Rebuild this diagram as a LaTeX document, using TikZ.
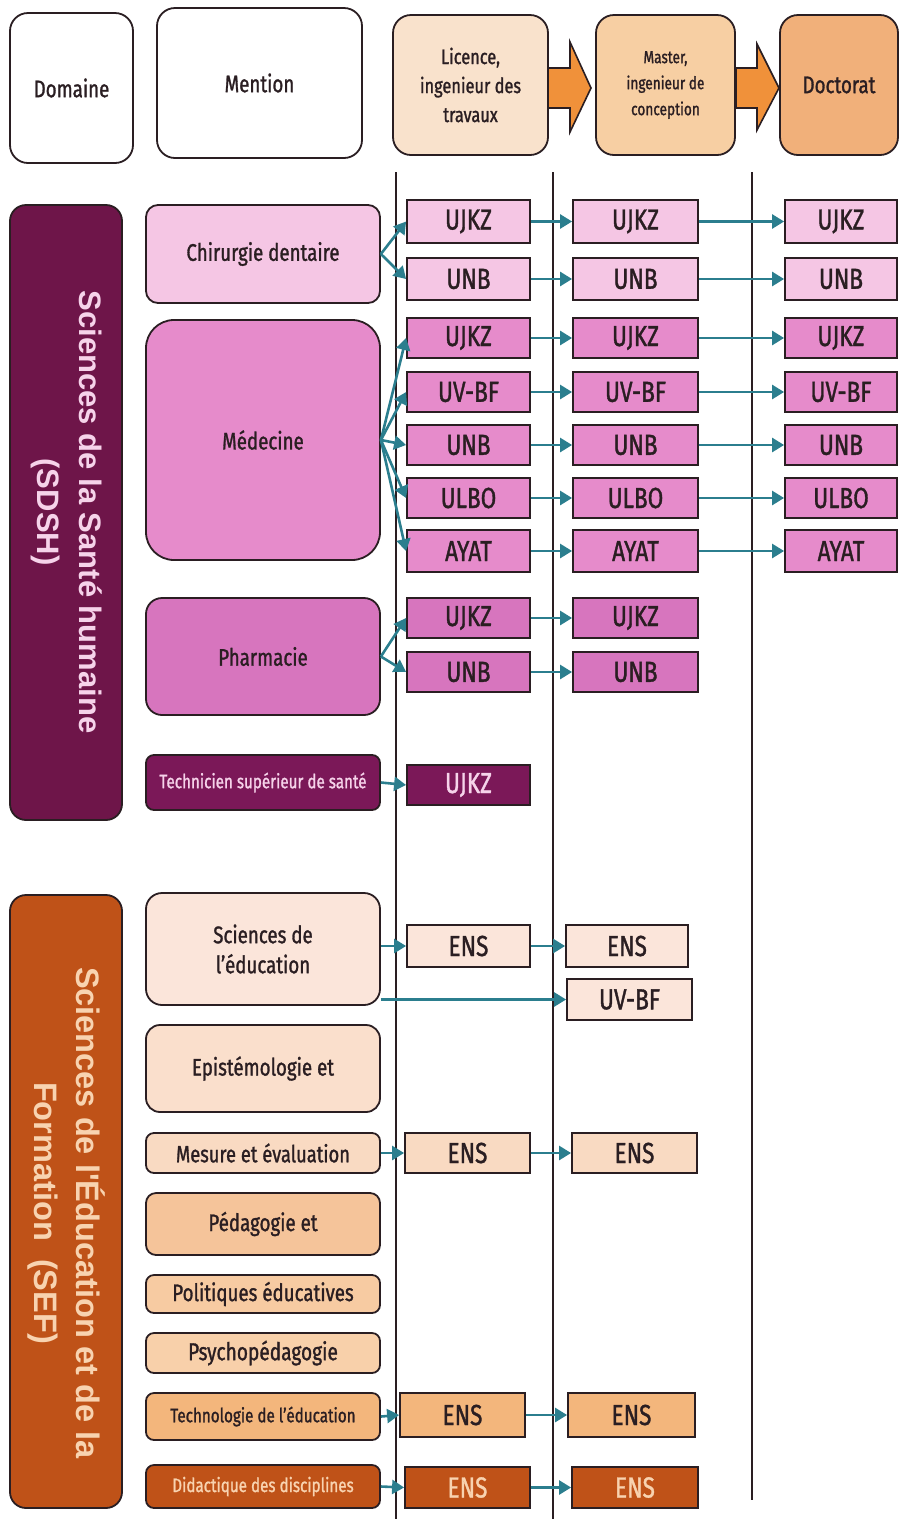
\documentclass[tikz,border=0pt]{standalone}
\usepackage{fontspec}
\setmainfont{Fira Sans}[FakeStretch=0.78,FakeBold=1.2]
\newfontfamily\domfont{Liberation Sans}
\usetikzlibrary{arrows.meta}
\definecolor{licfill}{HTML}{F9E2CC}
\definecolor{masfill}{HTML}{F7CFA3}
\definecolor{docfill}{HTML}{F1B07A}
\definecolor{harr}{HTML}{F0913A}
\definecolor{sdsh}{HTML}{6E1549}
\definecolor{pk1}{HTML}{F5C6E4}
\definecolor{pk2}{HTML}{E68BCB}
\definecolor{pk3}{HTML}{D775BE}
\definecolor{pk4}{HTML}{7B1858}
\definecolor{sef}{HTML}{BF5218}
\definecolor{pe1}{HTML}{FBE5DA}
\definecolor{pe2}{HTML}{FADFCC}
\definecolor{pe3}{HTML}{F9DAC2}
\definecolor{pe4}{HTML}{F5C49A}
\definecolor{pe5}{HTML}{F7CBA2}
\definecolor{pe6}{HTML}{F8D0AA}
\definecolor{pe7}{HTML}{F3B67C}
\definecolor{teal}{HTML}{2B7E8E}
\definecolor{ink}{HTML}{2A1E22}
\definecolor{lpink}{HTML}{F6D3EA}
\definecolor{lpeach}{HTML}{F8D3B0}
\newcommand\bx[7]{\node[#6, minimum width={(#4)-(#2)}, minimum height={(#5)-(#3)}] (#1) at ({((#2)+(#4))/2},{((#3)+(#5))/2}) {#7};}
\begin{document}
\begin{tikzpicture}[x=1pt,y=-1pt,
  base/.style={draw=ink, line width=1.8pt, inner sep=0pt, align=center, text=ink},
  hdr/.style={base, rounded corners=18pt, fill=white, font=\fontsize{24}{28}\selectfont},
  dombox/.style={base, rounded corners=16pt},
  menbox/.style={base, rounded corners=12pt, font=\fontsize{24}{30}\selectfont},
  inst/.style={base, rounded corners=0pt, font=\fontsize{29}{30}\selectfont},
  arr/.style={draw=teal, line width=2.6pt, -{Triangle[length=12pt,width=14pt]}},
  harrow/.style={draw=ink, line width=1.6pt, fill=harr, line join=miter},
  vline/.style={draw=ink, line width=1.2pt}]
\useasboundingbox (0,0) rectangle (908,1519);
% vertical lines
\draw[vline] (396,172) -- (396,1519);
\draw[vline] (553,172) -- (553,1519);
\draw[vline] (752,172) -- (752,1500);
% header arrows
\draw[harrow] (547,68) -- (570,68) -- (570,42) -- (591,88) -- (570,132) -- (570,108) -- (547,108) -- cycle;
\draw[harrow] (736,68) -- (757,68) -- (757,44) -- (779,88) -- (757,130) -- (757,108) -- (736,108) -- cycle;
% header
\bx{dom}{10}{13}{133}{163}{hdr}{Domaine}
\bx{men}{157}{8}{362}{158}{hdr}{Mention}
\bx{lic}{393}{15}{548}{155}{hdr,fill=licfill,font=\fontsize{21}{29}\selectfont}{Licence,\\ingenieur des\\travaux}
\bx{mas}{596}{15}{735}{155}{hdr,fill=masfill,font=\fontsize{17.5}{26}\selectfont}{Master,\\ingenieur de\\conception}
\bx{doc}{780}{15}{898}{155}{hdr,fill=docfill}{Doctorat}
% domains
\bx{sdsh}{10}{205}{122}{820}{dombox,fill=sdsh}{}
\node[rotate=-90, align=center, text=lpink, font=\domfont\bfseries\fontsize{31}{42}\selectfont] (sdshT) at (67,512) {Sciences de la Santé humaine\\(SDSH)};
\bx{sefd}{10}{895}{122}{1508}{dombox,fill=sef}{}
\node[rotate=-90, align=center, text=lpeach, font=\domfont\bfseries\fontsize{32.5}{42}\selectfont] (sefT) at (67,1213) {Sciences de l'Éducation et de la\\Formation\ \ (SEF)};
% mentions SDSH
\bx{chir}{146}{205}{380}{303}{menbox,fill=pk1}{Chirurgie dentaire}
\bx{med}{146}{320}{380}{560}{menbox,fill=pk2,rounded corners=28pt}{Médecine}
\bx{pha}{146}{598}{380}{715}{menbox,fill=pk3,rounded corners=16pt}{Pharmacie}
\bx{tec}{146}{755}{380}{810}{menbox,fill=pk4,text=lpink,font=\fontsize{19.5}{22}\selectfont,rounded corners=8pt}{Technicien supérieur de santé}
% mentions SEF
\bx{sce}{146}{893}{380}{1005}{menbox,fill=pe1,rounded corners=16pt}{Sciences de\\l'éducation}
\bx{epi}{146}{1025}{380}{1112}{menbox,fill=pe2,rounded corners=14pt}{Epistémologie et}
\bx{mes}{146}{1133}{380}{1173}{menbox,fill=pe3,rounded corners=8pt,font=\fontsize{23.5}{26}\selectfont}{Mesure et évaluation}
\bx{ped}{146}{1193}{380}{1255}{menbox,fill=pe4,rounded corners=10pt}{Pédagogie et}
\bx{pol}{146}{1275}{380}{1313}{menbox,fill=pe5,rounded corners=8pt,font=\fontsize{24}{26}\selectfont}{Politiques éducatives}
\bx{psy}{146}{1333}{380}{1373}{menbox,fill=pe6,rounded corners=8pt,font=\fontsize{24.5}{26}\selectfont}{Psychopédagogie}
\bx{tce}{146}{1393}{380}{1440}{menbox,fill=pe7,rounded corners=8pt,font=\fontsize{19.5}{22}\selectfont}{Technologie de l'éducation}
\bx{did}{146}{1465}{380}{1508}{menbox,fill=sef,text=lpeach,rounded corners=8pt,font=\fontsize{19.5}{22}\selectfont}{Didactique des disciplines}
% institutions: Chirurgie
\bx{l1}{407}{200}{530}{243}{inst,fill=pk1}{UJKZ}
\bx{m1}{573}{200}{698}{243}{inst,fill=pk1}{UJKZ}
\bx{d1}{785}{200}{897}{243}{inst,fill=pk1}{UJKZ}
\bx{l2}{407}{258}{530}{300}{inst,fill=pk1}{UNB}
\bx{m2}{573}{258}{698}{300}{inst,fill=pk1}{UNB}
\bx{d2}{785}{258}{897}{300}{inst,fill=pk1}{UNB}
% Medecine
\bx{l3}{407}{318}{530}{358}{inst,fill=pk2}{UJKZ}
\bx{m3}{573}{318}{698}{358}{inst,fill=pk2}{UJKZ}
\bx{d3}{785}{318}{897}{358}{inst,fill=pk2}{UJKZ}
\bx{l4}{407}{372}{530}{412}{inst,fill=pk2}{UV-BF}
\bx{m4}{573}{372}{698}{412}{inst,fill=pk2}{UV-BF}
\bx{d4}{785}{372}{897}{412}{inst,fill=pk2}{UV-BF}
\bx{l5}{407}{425}{530}{465}{inst,fill=pk2}{UNB}
\bx{m5}{573}{425}{698}{465}{inst,fill=pk2}{UNB}
\bx{d5}{785}{425}{897}{465}{inst,fill=pk2}{UNB}
\bx{l6}{407}{478}{530}{518}{inst,fill=pk2}{ULBO}
\bx{m6}{573}{478}{698}{518}{inst,fill=pk2}{ULBO}
\bx{d6}{785}{478}{897}{518}{inst,fill=pk2}{ULBO}
\bx{l7}{407}{530}{530}{572}{inst,fill=pk2}{AYAT}
\bx{m7}{573}{530}{698}{572}{inst,fill=pk2}{AYAT}
\bx{d7}{785}{530}{897}{572}{inst,fill=pk2}{AYAT}
% Pharmacie
\bx{l8}{407}{598}{530}{638}{inst,fill=pk3}{UJKZ}
\bx{m8}{573}{598}{698}{638}{inst,fill=pk3}{UJKZ}
\bx{l9}{407}{652}{530}{692}{inst,fill=pk3}{UNB}
\bx{m9}{573}{652}{698}{692}{inst,fill=pk3}{UNB}
% Technicien
\bx{l10}{407}{765}{530}{805}{inst,fill=pk4,text=lpink}{UJKZ}
% SEF
\bx{l11}{407}{925}{530}{967}{inst,fill=pe1}{ENS}
\bx{m11}{566}{925}{688}{967}{inst,fill=pe1}{ENS}
\bx{m12}{567}{979}{692}{1020}{inst,fill=pe1}{UV-BF}
\bx{l13}{405}{1133}{530}{1173}{inst,fill=pe3}{ENS}
\bx{m13}{572}{1133}{697}{1173}{inst,fill=pe3}{ENS}
\bx{l14}{400}{1393}{525}{1437}{inst,fill=pe7}{ENS}
\bx{m14}{568}{1393}{695}{1437}{inst,fill=pe7}{ENS}
\bx{l15}{405}{1467}{530}{1508}{inst,fill=sef,text=lpeach}{ENS}
\bx{m15}{572}{1467}{698}{1508}{inst,fill=sef,text=lpeach}{ENS}
% arrows mention -> licence
\foreach \t in {l1,l2} \draw[arr] (chir.east) -- (\t.west);
\foreach \t in {l3,l4,l5,l6,l7} \draw[arr] (med.east) -- (\t.west);
\foreach \t in {l8,l9} \draw[arr] (pha.east) -- (\t.west);
\draw[arr] (tec.east) -- (l10.west);
\draw[arr] (sce.east |- l11.west) -- (l11.west);
\draw[arr] (sce.south east |- m12.west) -- (m12.west);
\draw[arr] (mes.east) -- (l13.west);
\draw[arr] (tce.east) -- (l14.west);
\draw[arr] (did.east) -- (l15.west);
% licence -> master
\foreach \i in {1,...,9} \draw[arr] (l\i.east) -- (m\i.west);
\draw[arr] (l11.east) -- (m11.west);
\draw[arr] (l13.east) -- (m13.west);
\draw[arr] (l14.east) -- (m14.west);
\draw[arr] (l15.east) -- (m15.west);
% master -> doctorat
\foreach \i in {1,...,7} \draw[arr] (m\i.east) -- (d\i.west);
\end{tikzpicture}
\end{document}
